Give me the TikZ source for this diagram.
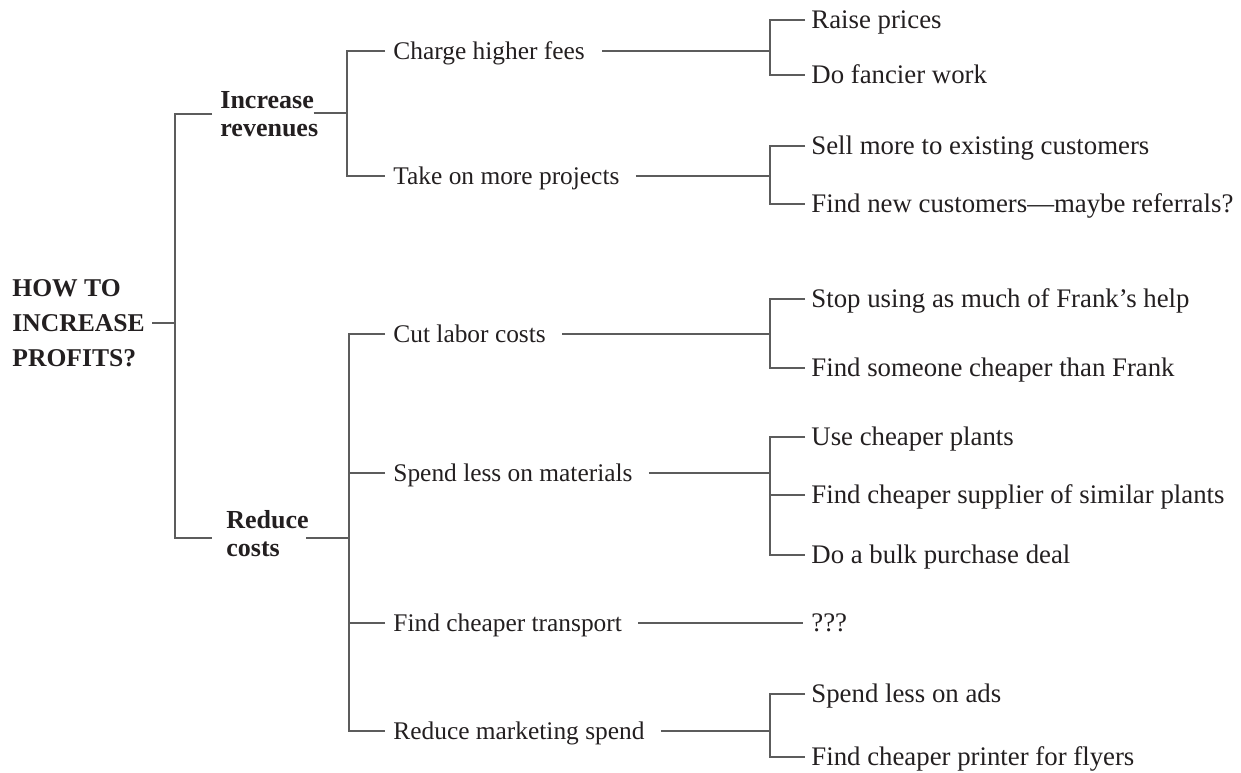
\documentclass[tikz,border=0pt]{standalone}
\usepackage{fontspec}
\setmainfont{Liberation Serif}
\usetikzlibrary{calc}
\definecolor{inktext}{HTML}{231F20}
\definecolor{inkline}{HTML}{5C5C5C}

\tikzset{
	item/.style={anchor=west, inner sep=0pt, text=inktext, text height=10pt, text depth=2pt, font=\fontsize{12.7}{15}\selectfont},
	leaf/.style={item, font=\fontsize{13.4}{15}\selectfont},
	head/.style={anchor=west, inner sep=0pt, text=inktext, align=left, font=\fontsize{13}{14}\selectfont\bfseries},
	link/.style={draw=inkline, line width=0.9pt}
}

\begin{document}
\begin{tikzpicture}[x=0.5pt, y=-0.5pt]
			%%%%% START %%%%%
			\useasboundingbox (0, 0) rectangle (1241, 772);
			
			% root and the two main branches
			\node[head, font=\fontsize{12.8}{17.5}\selectfont\bfseries] (root) at (12, 323) {HOW TO\\INCREASE\\PROFITS?};
			\node[head] (rev) at (220, 114) {Increase\\revenues};
			\node[head] (cost) at (226, 534) {Reduce\\costs};
			
			\coordinate (b0) at (175, 323);
			\draw[link] ([xshift=3.5pt]root.east) -- (b0);
			\draw[link] ([xshift=-4pt]rev.west) -| (b0) |- ([xshift=-7pt, yshift=-2pt]cost.west);
			
			% second level
			\node[item] (fees) at (393, 51) {Charge higher fees};
			\node[item] (proj) at (393, 176) {Take on more projects};
			\node[item] (labor) at (393, 334) {Cut labor costs};
			\node[item] (mat) at (393, 473) {Spend less on materials};
			\node[item] (trans) at (393, 623) {Find cheaper transport};
			\node[item] (mkt) at (393, 731) {Reduce marketing spend};
			
			\coordinate (b1) at (347, 113);
			\draw[link] (rev.east |- b1) ++(-2.5pt, 0) -- (b1);
			\draw[link] ([xshift=-4pt]fees.west) -| (b1) |- ([xshift=-4pt]proj.west);
			
			\coordinate (b2) at (349, 538);
			\draw[link] ([xshift=-1.5pt]cost.east |- b2) -- (b2);
			\draw[link] ([xshift=-4pt]labor.west) -| (b2) |- ([xshift=-4pt]mkt.west);
			\draw[link] ([xshift=-4pt]mat.west) -- (mat.west -| b2);
			\draw[link] ([xshift=-4pt]trans.west) -- (trans.west -| b2);
			
			% leaves
			\node[leaf] (raise) at (811, 20) {Raise prices};
			\node[leaf] (fancy) at (811, 75) {Do fancier work};
			\node[leaf] (sell) at (811, 146) {Sell more to existing customers};
			\node[leaf] (newc) at (811, 204) {Find new customers---maybe referrals?};
			\node[leaf] (stop) at (811, 299) {Stop using as much of Frank’s help};
			\node[leaf] (cheap) at (811, 368) {Find someone cheaper than Frank};
			\node[leaf] (plants) at (811, 437) {Use cheaper plants};
			\node[leaf] (supp) at (811, 495) {Find cheaper supplier of similar plants};
			\node[leaf] (bulk) at (811, 555) {Do a bulk purchase deal};
			\node[leaf] (qqq) at (811, 623) {???};
			\node[leaf] (ads) at (811, 694) {Spend less on ads};
			\node[leaf] (print) at (811, 757) {Find cheaper printer for flyers};
			
			\coordinate (c1) at (770, 51);
			\coordinate (c2) at (770, 176);
			\coordinate (c3) at (770, 334);
			\coordinate (c4) at (770, 473);
			\coordinate (c6) at (770, 731);
			
			\draw[link] ([xshift=8.5pt]fees.east) -- (c1);
			\draw[link] ([xshift=-3pt]raise.west) -| (c1) |- ([xshift=-3pt]fancy.west);
			
			\draw[link] ([xshift=8pt]proj.east) -- (c2);
			\draw[link] ([xshift=-3pt]sell.west) -| (c2) |- ([xshift=-3pt]newc.west);
			
			\draw[link] ([xshift=8pt]labor.east) -- (c3);
			\draw[link] ([xshift=-3pt]stop.west) -| (c3) |- ([xshift=-3pt]cheap.west);
			
			\draw[link] ([xshift=8pt]mat.east) -- (c4);
			\draw[link] ([xshift=-3pt]plants.west) -| (c4) |- ([xshift=-3pt]bulk.west);
			\draw[link] ([xshift=-3pt]supp.west) -- (supp.west -| c4);
			
			\draw[link] ([xshift=8pt]trans.east) -- ([xshift=-4pt]qqq.west);
			
			\draw[link] ([xshift=8pt]mkt.east) -- (c6);
			\draw[link] ([xshift=-3pt]ads.west) -| (c6) |- ([xshift=-3pt]print.west);
			%%%%% END %%%%%
\end{tikzpicture}
\end{document}
